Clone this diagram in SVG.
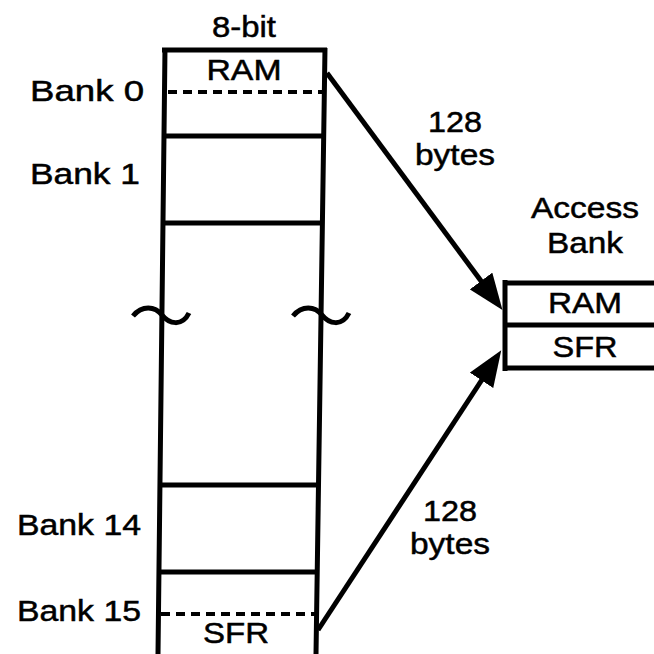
<svg xmlns="http://www.w3.org/2000/svg" width="654" height="654" viewBox="0 0 654 654">
<defs>
<style>
.t{font-family:"Liberation Sans",Arial,sans-serif;font-size:30px;fill:#000;stroke:#000;stroke-width:0.5}
.m{text-anchor:middle}
.e{text-anchor:end}
.ln{stroke:#000;stroke-width:5;fill:none}
.ds{stroke:#000;stroke-width:4;fill:none;stroke-dasharray:9 6}
.cn{stroke:#000;stroke-width:5;fill:none;marker-end:url(#ah)}
</style>
<marker id="ah" markerUnits="userSpaceOnUse" markerWidth="36" markerHeight="28" viewBox="0 0 36 28" refX="10" refY="14" orient="auto">
<path d="M0,0 L36,14 L0,28 z" fill="#000"/>
</marker>
</defs>
<rect width="654" height="654" fill="#fff"/>
<g id="memory">
<path class="ln" d="M165,48 L158,654 M325,48 L316,654 M162,50 L327,50"/>
<path class="ln" d="M164,136 L324,136 M163,223 L323,223 M160,485 L319,485 M159,572 L318,572"/>
<path class="ds" d="M168,92 L322,92 M161,614 L316,614"/>
<path class="ln" d="M133,316 C142,305 155,306 162,315 S182,327 189,313"/>
<path class="ln" d="M293,316 C302,305 315,306 322,315 S342,327 349,313"/>
<text class="t m" x="244" y="37" textLength="64" lengthAdjust="spacingAndGlyphs">8-bit</text>
<text class="t m" x="244" y="80" textLength="75" lengthAdjust="spacingAndGlyphs">RAM</text>
<text class="t m" x="236" y="643" textLength="66" lengthAdjust="spacingAndGlyphs">SFR</text>
</g>
<g id="labels">
<text class="t e" x="144" y="101" textLength="114" lengthAdjust="spacingAndGlyphs">Bank 0</text>
<text class="t e" x="140" y="184" textLength="110" lengthAdjust="spacingAndGlyphs">Bank 1</text>
<text class="t e" x="141" y="535" textLength="124" lengthAdjust="spacingAndGlyphs">Bank 14</text>
<text class="t e" x="141" y="621" textLength="124" lengthAdjust="spacingAndGlyphs">Bank 15</text>
</g>
<g id="access-bank">
<path class="ln" d="M505,283 L660,283 M505,325 L660,325 M505,368 L660,368 M505,280 L505,371"/>
<text class="t m" x="585" y="218" textLength="108" lengthAdjust="spacingAndGlyphs">Access</text>
<text class="t m" x="585" y="253" textLength="76" lengthAdjust="spacingAndGlyphs">Bank</text>
<text class="t m" x="585" y="313" textLength="74" lengthAdjust="spacingAndGlyphs">RAM</text>
<text class="t m" x="585" y="357" textLength="65" lengthAdjust="spacingAndGlyphs">SFR</text>
</g>
<g id="connectors">
<path class="cn" d="M327,73 L487,289"/>
<path class="cn" d="M318,630 L487,372"/>
<text class="t m" x="455" y="132" textLength="54" lengthAdjust="spacingAndGlyphs">128</text>
<text class="t m" x="455" y="165" textLength="80" lengthAdjust="spacingAndGlyphs">bytes</text>
<text class="t m" x="450" y="521" textLength="54" lengthAdjust="spacingAndGlyphs">128</text>
<text class="t m" x="450" y="554" textLength="80" lengthAdjust="spacingAndGlyphs">bytes</text>
</g>
</svg>
